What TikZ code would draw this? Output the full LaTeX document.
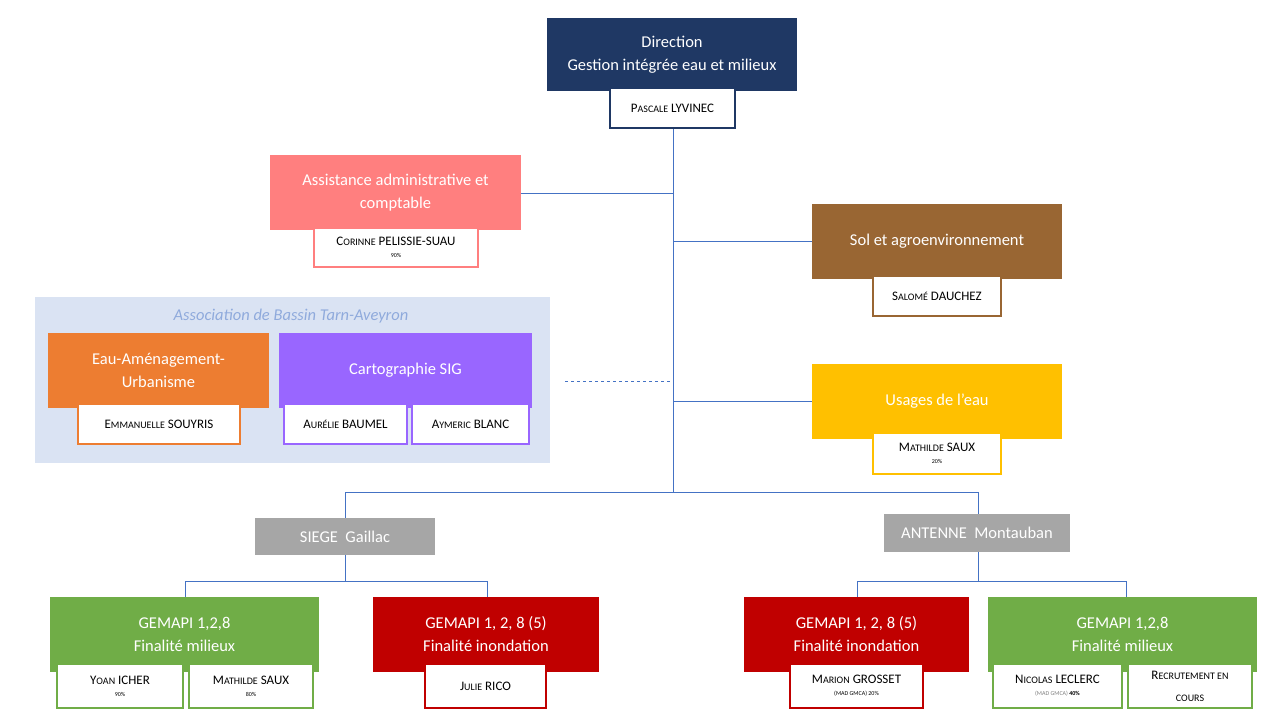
\documentclass[tikz,border=0pt]{standalone}
\usepackage{fontspec}
\setmainfont{Carlito}
\usetikzlibrary{positioning}
\definecolor{navy}{HTML}{1F3864}
\definecolor{rose}{HTML}{FF7F7F}
\definecolor{brun}{HTML}{996633}
\definecolor{jaune}{HTML}{FFC000}
\definecolor{orangeu}{HTML}{ED7D31}
\definecolor{violetu}{HTML}{9966FF}
\definecolor{vert}{HTML}{70AD47}
\definecolor{rouge}{HTML}{C00000}
\definecolor{gris}{HTML}{A6A6A6}
\definecolor{fond}{HTML}{DAE3F3}
\definecolor{trait}{HTML}{4472C4}
\newcommand{\psc}[2]{#1{\fontsize{10}{12}\selectfont #2}}
\newcommand{\pct}[1]{\\[-3pt]{\fontsize{6}{7}\selectfont #1}}
\begin{document}
\begin{tikzpicture}[x=1pt,y=-1pt,
    unit/.style={draw=none, text=white, font=\fontsize{16.5}{23}\selectfont, align=center, inner sep=0pt},
    person/.style={draw, fill=white, line width=1.3pt, align=center, inner sep=0pt, font=\fontsize{13}{15}\selectfont},
    link/.style={trait, line width=0.8pt}]
    \useasboundingbox (0,0) rectangle (1280,720);
    % association background
    \fill[fond] (35,297) rectangle (550,463);
    \node[font=\fontsize{16.5}{20}\selectfont\itshape, text=trait!60] (abta) at (291,316) {Association de Bassin Tarn-Aveyron};
    % lines first
    \coordinate (top) at (673,128);
    \coordinate (mid) at (673,492);
    \coordinate (ls) at (345,492);
    \coordinate (la) at (978,492);
    \draw[link] (top) -- (mid);
    \draw[link] (ls) -- (la);
    \draw[link] (673,193) -- (521,193);
    \draw[link] (673,241) -- (812,241);
    \draw[link] (673,401) -- (812,401);
    \draw[link, dashed] (565,381) -- (670,381);
    \draw[link] (ls) -- (345,518);
    \draw[link] (la) -- (978,514);
    \draw[link] (345,555) -- (345,581);
    \draw[link] (185,581) -- (487,581);
    \draw[link] (185,581) -- (185,597);
    \draw[link] (487,581) -- (487,597);
    \draw[link] (978,552) -- (978,581);
    \draw[link] (857,581) -- (1126,581);
    \draw[link] (857,581) -- (857,597);
    \draw[link] (1126,581) -- (1126,597);
    % units
    \node[unit, fill=navy, minimum width=250, minimum height=73] (dir) at (672,54.5) {Direction\\Gestion intégrée eau et milieux};
    \node[person, draw=navy, minimum width=125, minimum height=40] (pl) at (672.5,108) {\psc{P}{ASCALE} LYVINEC};
    \node[unit, fill=rose, minimum width=251, minimum height=75] (adm) at (395.5,192.5) {Assistance administrative et\\comptable};
    \node[person, draw=rose, minimum width=164, minimum height=39] (cps) at (396,247.5) {\psc{C}{ORINNE} PELISSIE-SUAU\pct{90\%}};
    \node[unit, fill=brun, minimum width=250, minimum height=75] (sol) at (937,241.5) {Sol et agroenvironnement};
    \node[person, draw=brun, minimum width=128, minimum height=40] (sd) at (937,296) {\psc{S}{ALOMÉ} DAUCHEZ};
    \node[unit, fill=jaune, minimum width=250, minimum height=75] (use) at (937,401.5) {Usages de l’eau};
    \node[person, draw=jaune, minimum width=128, minimum height=41] (ms) at (937,453.5) {\psc{M}{ATHILDE} SAUX\pct{20\%}};
    \node[unit, fill=orangeu, minimum width=221, minimum height=75] (eau) at (158.5,370.5) {Eau-Aménagement-\\Urbanisme};
    \node[person, draw=orangeu, minimum width=162, minimum height=40] (es) at (159,424) {\psc{E}{MMANUELLE} SOUYRIS};
    \node[unit, fill=violetu, minimum width=253, minimum height=75] (sig) at (405.5,370.5) {Cartographie SIG};
    \node[person, draw=violetu, minimum width=123, minimum height=40] (ab) at (345.5,424) {A\psc{}{URÉLIE} BAUMEL};
    \node[person, draw=violetu, minimum width=117, minimum height=40] (ayb) at (470.5,424) {\psc{A}{YMERIC} BLANC};
    \node[unit, fill=gris, minimum width=180, minimum height=37] (siege) at (345,536.5) {SIEGE\ \ Gaillac};
    \node[unit, fill=gris, minimum width=186, minimum height=38] (ant) at (977,533) {ANTENNE\ \ Montauban};
    \node[unit, fill=vert, minimum width=269, minimum height=75] (g1) at (184.5,634.5) {GEMAPI 1,2,8\\Finalité milieux};
    \node[unit, fill=rouge, minimum width=226, minimum height=75] (g2) at (486,634.5) {GEMAPI 1, 2, 8 (5)\\Finalité inondation};
    \node[unit, fill=rouge, minimum width=225, minimum height=75] (g3) at (856.5,634.5) {GEMAPI 1, 2, 8 (5)\\Finalité inondation};
    \node[unit, fill=vert, minimum width=269, minimum height=75] (g4) at (1122.5,634.5) {GEMAPI 1,2,8\\Finalité milieux};
    \node[person, draw=vert, minimum width=126, minimum height=44] (yi) at (120,686) {\psc{Y}{OAN} ICHER\pct{90\%}};
    \node[person, draw=vert, minimum width=124, minimum height=44] (ms2) at (251,686) {\psc{M}{ATHILDE} SAUX\pct{80\%}};
    \node[person, draw=rouge, minimum width=121, minimum height=44] (jr) at (485.5,686) {\psc{J}{ULIE} RICO};
    \node[person, draw=rouge, minimum width=133, minimum height=44] (mg) at (856.5,686) {\psc{M}{ARION} GROSSET\pct{(MAD GMCA) 20\%}};
    \node[person, draw=vert, minimum width=129, minimum height=44] (nl) at (1057.5,686) {\psc{N}{ICOLAS} LECLERC\pct{\color{gray}(MAD GMCA) \color{black}\textbf{40\%}}};
    \node[person, draw=vert, minimum width=124, minimum height=44, font=\fontsize{13}{22}\selectfont] (rec) at (1190,686) {\psc{R}{ECRUTEMENT EN}\\\psc{}{COURS}};
\end{tikzpicture}
\end{document}
